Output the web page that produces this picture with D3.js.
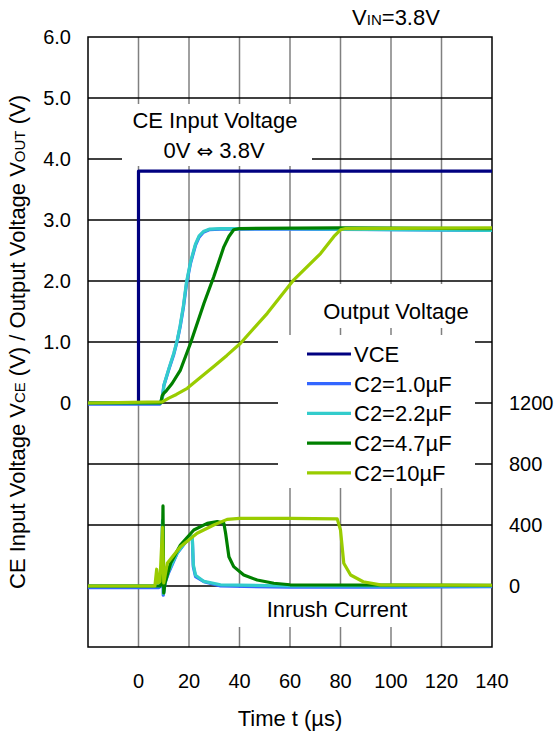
<!DOCTYPE html>
<html><head><meta charset="utf-8">
<script src="https://cdn.jsdelivr.net/npm/d3@7"></script>
<style>body{margin:0;background:#fff}text{font-family:Arial,"Liberation Sans",sans-serif;fill:#000}</style>
</head><body>
<svg id="c" width="560" height="734"></svg>
<script>
// ---- data ----
const xTicks = [0, 20, 40, 60, 80, 100, 120, 140];
const yTicksLeft = [0, 1, 2, 3, 4, 5, 6];
const yTicksRight = [0, 400, 800, 1200];
const seriesNames = ["VCE", "C2=1.0µF", "C2=2.2µF", "C2=4.7µF", "C2=10µF"];
const seriesColors = ["#000080", "#3366ff", "#33cccc", "#008000", "#99cc00"];

// voltage traces [t (µs), V]
const vce = [[-20,0],[0,0],[0,3.8],[140,3.8]];
const vout1 = [[-20,-0.02],[8.5,-0.02],[9.5,0.1],[10,0.28],[12,0.55],[14,0.8],[15.4,1.03],[16.5,1.25],[17.8,1.57],[19,1.95],[20.6,2.29],[22.6,2.59],[24,2.72],[25.7,2.8],[28,2.84],[32.5,2.85],[60,2.85],[100,2.84],[140,2.83]];
const vout22 = [[-20,0],[8.7,0],[9.6,0.12],[10.1,0.3],[12,0.56],[14,0.82],[15.4,1.04],[16.5,1.27],[17.8,1.6],[19,1.98],[20.6,2.31],[22.6,2.61],[24,2.74],[25.7,2.81],[28,2.85],[32.5,2.86],[60,2.86],[100,2.84],[140,2.83]];
const vout47 = [[-20,0],[8.8,0],[9.4,0.12],[10,0.16],[11,0.2],[13.3,0.32],[16.6,0.54],[20.6,0.98],[25.9,1.63],[29.8,2.07],[33.8,2.56],[35.8,2.73],[37.7,2.84],[40,2.86],[80,2.87],[140,2.86]];
const vout10 = [[-20,0],[9.4,0.02],[12,0.08],[15,0.14],[19.3,0.24],[24,0.4],[29.8,0.6],[35,0.78],[40.4,0.98],[51,1.47],[61.5,2.02],[72.1,2.45],[77.4,2.73],[80,2.84],[82,2.86],[140,2.87]];

// inrush current traces [t (µs), mA]
const iin1 = [[-20,-10],[8,-10],[9,0],[9.5,400],[9.8,-60],[10.5,20],[12,90],[15.3,214],[19.3,302],[21.3,323],[21.7,127],[22.6,61],[25.9,28],[32.5,0],[60,-8],[100,-8],[140,-5]];
const iin22 = [[-20,0],[8,0],[9,20],[9.5,430],[9.9,-50],[10.5,30],[12,100],[15.3,216],[19.3,304],[21.3,326],[21.7,140],[22.6,70],[25.9,30],[32.5,8],[60,0],[140,0]];
const iin47 = [[-20,0],[8.5,0],[9.3,20],[9.7,525],[10,-46],[10.5,20],[12.7,149],[16.6,269],[21.9,367],[27.2,411],[31.2,422],[33.8,411],[34.5,346],[35.8,192],[37.7,127],[41.7,72],[47,39],[53.6,18],[60,8],[140,5]];
const iin10 = [[-20,0],[6.5,0],[7.2,110],[7.8,20],[8.5,30],[9.5,385],[10,20],[11.4,149],[16.6,258],[23.2,346],[29.8,400],[35.1,437],[40,443],[60,443],[78.7,440],[80,367],[81.3,149],[84,72],[89,28],[95.8,7],[140,5]];

// ---- layout ----
const svg = d3.select("#c");
const L = 88, R = 492, T = 37, B = 647;
const x = d3.scaleLinear().domain([-20, 140]).range([L, R]);
const y = d3.scaleLinear().domain([-4, 6]).range([B, T]);
const y2 = d3.scaleLinear().domain([-400, 3600]).range([B, T]);

// grid
const gv = d3.range(0, 121, 20);
svg.append("g").selectAll("line").data(gv).join("line")
  .attr("x1", d => x(d)).attr("x2", d => x(d)).attr("y1", T).attr("y2", B)
  .attr("stroke", "#808080").attr("stroke-width", 1.5);
const gh = d3.range(-3, 6, 1);
svg.append("g").selectAll("line").data(gh).join("line")
  .attr("x1", L).attr("x2", R).attr("y1", d => y(d)).attr("y2", d => y(d))
  .attr("stroke", "#000").attr("stroke-width", 1.5);

// white boxes
const boxes = [[122,104,312,166],[300,284,485,328],[278,335,475,488],[200,588,436,627]];
svg.append("g").selectAll("rect").data(boxes).join("rect")
  .attr("x", d => d[0]).attr("y", d => d[1]).attr("width", d => d[2]-d[0]).attr("height", d => d[3]-d[1])
  .attr("fill", "#fff");

// frame
svg.append("rect").attr("x", L).attr("y", T).attr("width", R-L).attr("height", B-T)
  .attr("fill", "none").attr("stroke", "#000").attr("stroke-width", 1.5);

// data lines
const lv = d3.line().x(d => x(d[0])).y(d => y(d[1]));
const li = d3.line().x(d => x(d[0])).y(d => y2(d[1]));
const vData = [vce, vout1, vout22, vout47, vout10];
const iData = [null, iin1, iin22, iin47, iin10];
const g = svg.append("g").attr("fill", "none").attr("stroke-width", 3.2).attr("stroke-linejoin", "round");
for (let k = 0; k < 5; k++) {
  g.append("path").attr("d", lv(vData[k])).attr("stroke", seriesColors[k]);
  if (iData[k]) g.append("path").attr("d", li(iData[k])).attr("stroke", seriesColors[k]);
}

// axis labels
const fs = 20;
svg.append("g").selectAll("text").data(yTicksLeft).join("text")
  .attr("x", 71).attr("y", d => y(d)).attr("dy", "0.35em").attr("text-anchor", "end")
  .attr("font-size", fs).text(d => d === 0 ? "0" : d3.format(".1f")(d));
svg.append("g").selectAll("text").data(yTicksRight).join("text")
  .attr("x", 509).attr("y", d => y2(d)).attr("dy", "0.35em").attr("text-anchor", "start")
  .attr("font-size", fs).text(d => d);
svg.append("g").selectAll("text").data(xTicks).join("text")
  .attr("x", d => x(d)).attr("y", 688).attr("text-anchor", "middle")
  .attr("font-size", fs).text(d => d);

const tfs = 22;
svg.append("text").attr("x", 290).attr("y", 726).attr("text-anchor", "middle").attr("font-size", tfs).text("Time t (µs)");

const yt = svg.append("text").attr("transform", "translate(25,342) rotate(-90)").attr("text-anchor", "middle").attr("font-size", tfs);
yt.append("tspan").text("CE Input Voltage V");
yt.append("tspan").attr("font-size", 15).text("CE");
yt.append("tspan").text(" (V) / Output Voltage V");
yt.append("tspan").attr("font-size", 15).text("OUT");
yt.append("tspan").text(" (V)");

const tt = svg.append("text").attr("x", 396).attr("y", 25).attr("text-anchor", "middle").attr("font-size", tfs);
tt.append("tspan").text("V");
tt.append("tspan").attr("font-size", 15).text("IN");
tt.append("tspan").text("=3.8V");

svg.append("text").attr("x", 215).attr("y", 128).attr("text-anchor", "middle").attr("font-size", tfs).text("CE Input Voltage");
const ce2 = svg.append("text").attr("x", 214).attr("y", 158).attr("text-anchor", "middle").attr("font-size", tfs);
ce2.append("tspan").text("0V ");
ce2.append("tspan").style("font-family", "'DejaVu Sans'").attr("font-size", 20).text("⇔");
ce2.append("tspan").text(" 3.8V");
svg.append("text").attr("x", 396).attr("y", 319).attr("text-anchor", "middle").attr("font-size", tfs).text("Output Voltage");
svg.append("text").attr("x", 337).attr("y", 617).attr("text-anchor", "middle").attr("font-size", tfs).text("Inrush Current");

// legend
const lg = svg.append("g");
seriesNames.forEach((n, k) => {
  const yy = 354 + k * 29.7;
  lg.append("line").attr("x1", 307).attr("x2", 351).attr("y1", yy).attr("y2", yy)
    .attr("stroke", seriesColors[k]).attr("stroke-width", 3.2);
  lg.append("text").attr("x", 354).attr("y", yy).attr("dy", "0.36em").attr("font-size", tfs).text(n);
});
</script>
</body></html>
